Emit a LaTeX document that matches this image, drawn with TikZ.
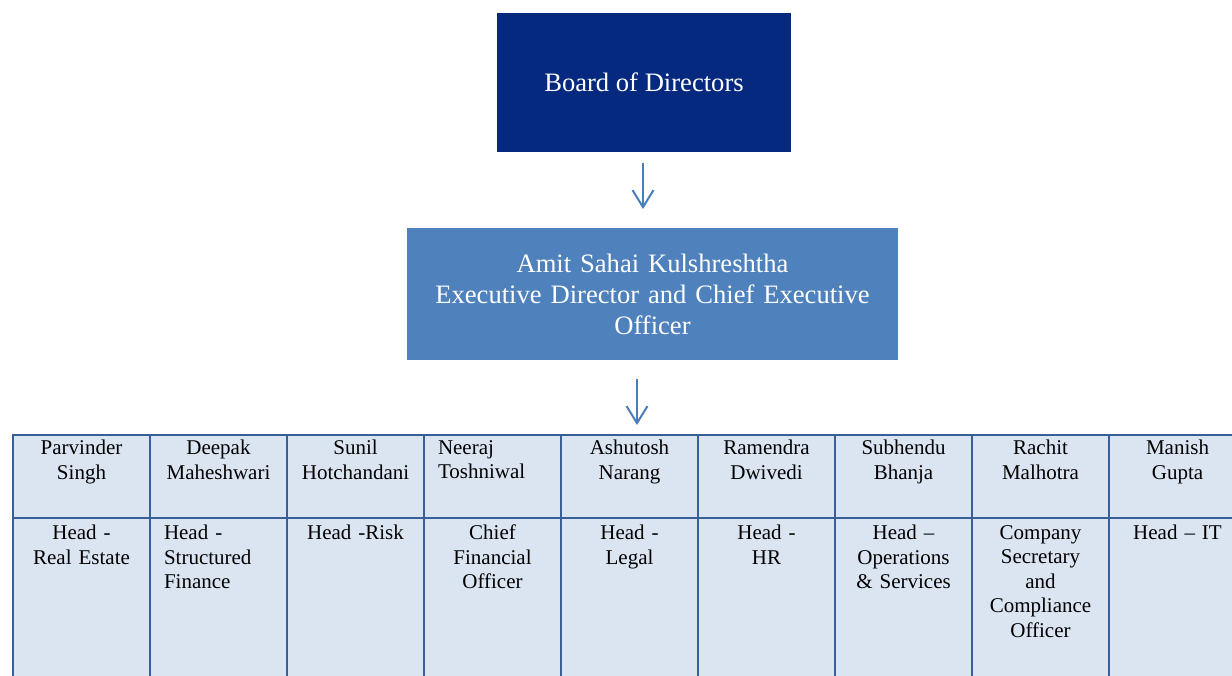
\documentclass[tikz,border=0pt]{standalone}
\usepackage{fontspec}
\setmainfont{Liberation Serif}
\usetikzlibrary{positioning,arrows.meta}
\definecolor{boardblue}{RGB}{6,41,128}
\definecolor{ceoblue}{RGB}{79,129,189}
\definecolor{cellfill}{RGB}{219,229,241}
\definecolor{cellline}{RGB}{56,95,152}
\definecolor{arrowblue}{RGB}{74,126,187}

\begin{document}
\begin{tikzpicture}[x=1pt, y=-1pt,
  % common options for the two boxes on top:
  box/.style = {align=center, text=white, inner sep=0, outer sep=0,
              font=\fontsize{26.6}{31}\selectfont},
  % common options for the table cells:
  cell/.style = {draw=cellline, fill=cellfill, line width=2.2pt,
              anchor=north west, minimum width=137pt, inner sep=0,
              outer sep=0},
  head/.style = {cell, minimum height=83pt},
  role/.style = {cell, minimum height=170pt},
  % text inside the cells:
  celltext/.style = {align=center, text width=109pt, inner sep=0,
              font=\fontsize{21}{24.5}\selectfont},
  % the arrows between the levels:
  flow/.style = {draw=arrowblue, line width=2pt,
              -{Straight Barb[length=17pt,width=21pt]}}]

\useasboundingbox (0,0) rectangle (1232,675);
\clip (0,0) rectangle (1232,675);

% board on top
\node[box,fill=boardblue,minimum width=294pt,minimum height=139pt] (board)
   at (644,82.5) {Board of Directors};

% chief executive
\node[box,fill=ceoblue,minimum width=491pt,minimum height=132pt,
   text width=460pt] (ceo) at (652.5,294)
   {Amit Sahai Kulshreshtha\\
    Executive Director and Chief Executive\\
    Officer};

% header row of the table: the names
\node[head] (parvinder) at (13,435) {};
\node[head] (deepak) at (150,435) {};
\node[head] (sunil) at (287,435) {};
\node[head] (neeraj) at (424,435) {};
\node[head] (ashutosh) at (561,435) {};
\node[head] (ramendra) at (698,435) {};
\node[head] (subhendu) at (835,435) {};
\node[head] (rachit) at (972,435) {};
\node[head] (manish) at (1109,435) {};

% second row of the table: the roles
\node[role] (realestate) at (13,518) {};
\node[role] (structured) at (150,518) {};
\node[role] (risk) at (287,518) {};
\node[role] (cfo) at (424,518) {};
\node[role] (legal) at (561,518) {};
\node[role] (hr) at (698,518) {};
\node[role] (operations) at (835,518) {};
\node[role] (secretary) at (972,518) {};
\node[role] (it) at (1109,518) {};

% names
\node[celltext,below=5pt of parvinder.north] (parvindertxt) {Parvinder\\Singh};
\node[celltext,below=5pt of deepak.north] (deepaktxt) {Deepak\\Maheshwari};
\node[celltext,below=5pt of sunil.north] (suniltxt) {Sunil\\Hotchandani};
\node[celltext,align=left,below=5pt of neeraj.north] (neerajtxt) {Neeraj\\Toshniwal};
\node[celltext,below=5pt of ashutosh.north] (ashutoshtxt) {Ashutosh\\Narang};
\node[celltext,below=5pt of ramendra.north] (ramendratxt) {Ramendra\\Dwivedi};
\node[celltext,below=5pt of subhendu.north] (subhendutxt) {Subhendu\\Bhanja};
\node[celltext,below=5pt of rachit.north] (rachittxt) {Rachit\\Malhotra};
\node[celltext,below=5pt of manish.north] (manishtxt) {Manish\\Gupta};

% roles
\node[celltext,below=7pt of realestate.north] (realestatetxt) {Head -\\Real Estate};
\node[celltext,align=left,below=7pt of structured.north] (structuredtxt)
   {Head -\\Structured\\Finance};
\node[celltext,below=7pt of risk.north] (risktxt) {Head -Risk};
\node[celltext,below=7pt of cfo.north] (cfotxt) {Chief\\Financial\\Officer};
\node[celltext,below=7pt of legal.north] (legaltxt) {Head -\\Legal};
\node[celltext,below=7pt of hr.north] (hrtxt) {Head -\\HR};
\node[celltext,below=7pt of operations.north] (operationstxt)
   {Head –\\Operations\\\& Services};
\node[celltext,below=7pt of secretary.north] (secretarytxt)
   {Company\\Secretary\\and\\Compliance\\Officer};
\node[celltext,below=7pt of it.north] (ittxt) {Head – IT};

% arrows from one level to the next
\draw[flow] ([xshift=-1pt,yshift=-11pt]board.south) --
   ([xshift=-9.5pt,yshift=19pt]ceo.north);
\draw[flow] ([xshift=-15.5pt,yshift=-19pt]ceo.south) --
   ([xshift=7.5pt,yshift=10pt]ashutosh.north);
\end{tikzpicture}
\end{document}
